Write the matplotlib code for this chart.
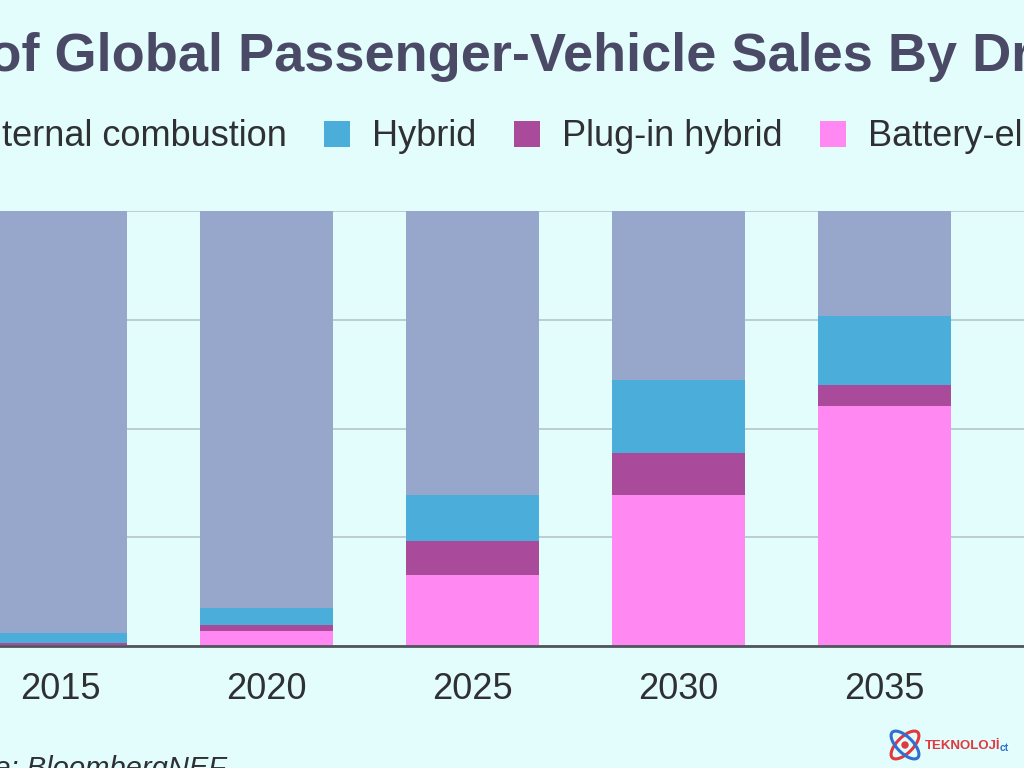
import matplotlib.pyplot as plt
from matplotlib.patches import Ellipse, Circle

# Data (share of sales, %)
years = ["2015", "2020", "2025", "2030", "2035"]
bev = [0.2, 3.4, 16.3, 34.7, 55.2]
phev = [0.4, 1.4, 7.8, 9.7, 4.8]
hybrid = [2.4, 3.9, 10.6, 16.8, 15.9]
ice = [100 - a - b - c for a, b, c in zip(bev, phev, hybrid)]

series = ["Internal combustion", "Hybrid", "Plug-in hybrid", "Battery-electric"]
colors = ["#97A7CC", "#4AADDA", "#A94A9B", "#FF88F2"]

BG = "#E3FCFC"
W, H = 1024, 768

plt.rcParams["font.family"] = ["Liberation Sans", "DejaVu Sans"]

fig = plt.figure(figsize=(W / 100, H / 100), dpi=100, facecolor=BG)

# axes spans the full width; the chart is cropped on both sides
ax = fig.add_axes([0, 1 - 646 / H, 1, (646 - 211) / H])
ax.set_facecolor(BG)

x = list(range(len(years)))
bw = 133 / 206
bottom = [0] * len(years)

stack = [bev, phev, hybrid, ice]
stack_cols = [colors[3], colors[2], colors[1], colors[0]]
stack_names = [series[3], series[2], series[1], series[0]]
bars = {}
for vals, col, name in zip(stack, stack_cols, stack_names):
    b = ax.bar(x, vals, bw, bottom=bottom, color=col, label=name, zorder=3)
    bars[name] = b
    bottom = [p + q for p, q in zip(bottom, vals)]

ax.set_xlim(-60 / 206, (W - 60) / 206)
ax.set_ylim(0, 100)
ax.set_yticks([0, 25, 50, 75, 100])
ax.yaxis.grid(True, color="#B9CACE", linewidth=1.3, zorder=0)
ax.tick_params(axis="y", left=False, labelleft=False)
ax.set_xticks(x)
ax.set_xticklabels(years, fontsize=26, color="#2E3033")
ax.tick_params(axis="x", length=0, pad=19)
for s in ["top", "left", "right"]:
    ax.spines[s].set_visible(False)
ax.spines["bottom"].set_color("#50555C")
ax.spines["bottom"].set_linewidth(2)
ax.spines["bottom"].set_zorder(4)

# legend (partly cut on both sides)
leg = fig.legend([bars[n] for n in series], series, loc="center left",
                 bbox_to_anchor=(-76 / W, 1 - 137 / H), ncol=4, frameon=False,
                 fontsize=26, handlelength=0.72, handleheight=0.72,
                 handletextpad=0.6, columnspacing=1.05, borderpad=0,
                 borderaxespad=0, labelcolor="#2E3033")

renderer = fig.canvas.get_renderer()


def prefix_width(prefix, **kw):
    t1 = fig.text(0, 0, prefix + "x", **kw)
    t2 = fig.text(0, 0, "x", **kw)
    w = t1.get_window_extent(renderer).width - t2.get_window_extent(renderer).width
    t1.remove()
    t2.remove()
    return w


title_kw = dict(fontsize=39, fontweight="bold", color="#4A4A66")
tw = prefix_width("Share ", **title_kw)
fig.text((-12 - tw) / W, 1 - 57 / H, "Share of Global Passenger-Vehicle Sales By Drivetrain",
         ha="left", va="center", **title_kw)

src_kw = dict(fontsize=21, fontstyle="italic", color="#2E3033")
sw = prefix_width("Sourc", **src_kw)
fig.text((-6 - sw) / W, 1 - 777 / H, "Source: BloombergNEF", ha="left",
         va="baseline", **src_kw)

# watermark logo
fig.text(925 / W, 1 - 746 / H, "TEKNOLOJİ", fontsize=9.5, fontweight="bold",
         color="#E0393E", ha="left", va="center")
fig.text(1000 / W, 1 - 748 / H, "ct", fontsize=7.5, fontweight="bold",
         color="#2F6FD0", ha="left", va="center")
cx, cy = 905 / 100, (H - 745) / 100
fig.add_artist(Ellipse((cx, cy), 0.36, 0.16, angle=45, fill=False, edgecolor="#E0393E",
                       linewidth=2.2, transform=fig.dpi_scale_trans))
fig.add_artist(Ellipse((cx, cy), 0.36, 0.16, angle=-45, fill=False, edgecolor="#2F6FD0",
                       linewidth=2.2, transform=fig.dpi_scale_trans))
fig.add_artist(Circle((cx, cy), 0.03, color="#E0393E", transform=fig.dpi_scale_trans))

fig.savefig("out.png", dpi=100, facecolor=BG)
